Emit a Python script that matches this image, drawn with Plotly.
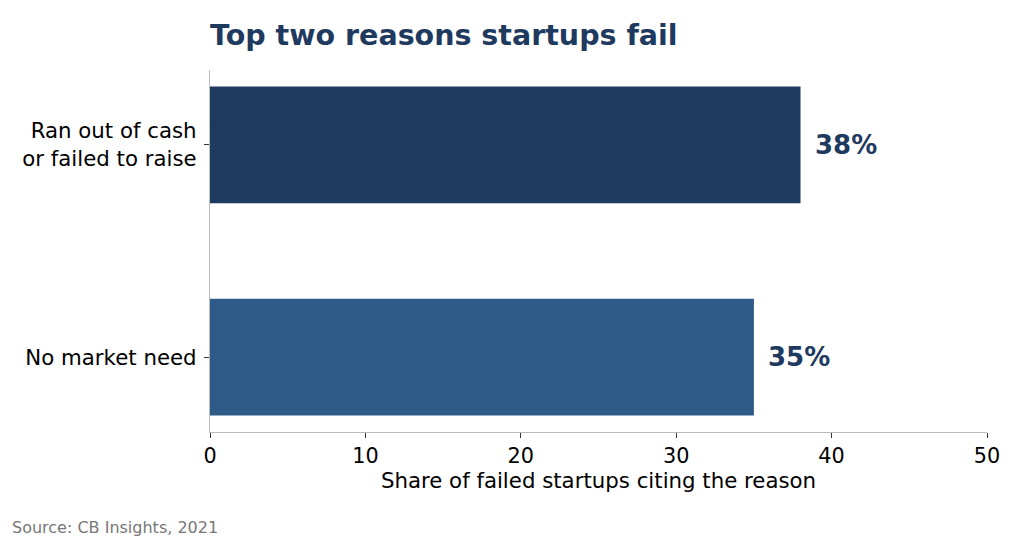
import plotly.graph_objects as go

categories = ["Ran out of cash<br>or failed to raise", "No market need"]
values = [38, 35]
labels = ["38%", "35%"]
positions = [1, 0]
bar_colors = ["#1f3a5f", "#2e5a87"]

TITLE = "Top two reasons startups fail"
X_TITLE = "Share of failed startups citing the reason"
SOURCE = "Source: CB Insights, 2021"
x_ticks = [0, 10, 20, 30, 40, 50]

W, H = 1024, 538
L, R, T, B = 210, 37, 70, 106
pw, ph = W - L - R, H - T - B

fig = go.Figure()
fig.add_trace(go.Bar(
    x=values, y=positions, orientation="h", width=0.55,
    marker=dict(color=bar_colors, line=dict(width=0)),
    hoverinfo="skip",
))

for v, p, t in zip(values, positions, labels):
    fig.add_annotation(x=v, y=p, xref="x", yref="y", text=f"<b>{t}</b>",
                       showarrow=False, xanchor="left", yanchor="middle",
                       xshift=12, font=dict(family="DejaVu Sans", size=26, color="#1f3a5f"))

fig.add_annotation(x=(10 - L) / pw, y=(H - B - 527) / ph, xref="paper", yref="paper",
                   text=SOURCE, showarrow=False, xanchor="left", yanchor="middle",
                   font=dict(family="DejaVu Sans", size=16, color="#777777"))

fig.update_layout(
    width=W, height=H,
    margin=dict(l=L, r=R, t=T, b=B, autoexpand=False),
    paper_bgcolor="white", plot_bgcolor="white",
    showlegend=False,
    font=dict(family="DejaVu Sans", size=20.8, color="black"),
    title=dict(text=f"<b>{TITLE}</b>", x=0, xref="paper", xanchor="left",
               y=1 - 35 / H, yref="container", yanchor="middle",
               font=dict(family="DejaVu Sans", size=28.5, color="#1f3a5f")),
    xaxis=dict(range=[0, 50], tickvals=x_ticks, showgrid=False, zeroline=False,
               showline=True, linecolor="#bbbbbb", linewidth=1.2,
               ticks="outside", ticklen=5, tickcolor="#333333", tickwidth=1,
               title=dict(text=X_TITLE, standoff=6, font=dict(size=21.3))),
    yaxis=dict(range=[-0.3525, 1.3525], tickvals=positions, ticktext=categories,
               showgrid=False, zeroline=False,
               showline=True, linecolor="#bbbbbb", linewidth=1.2,
               ticks="outside", ticklen=5, tickcolor="#333333", tickwidth=1,
               ticklabelstandoff=3, tickfont=dict(size=21.3)),
)

fig.write_html("out.html",
               config={"displayModeBar": False},
               post_script="document.body.style.margin='0';document.body.style.padding='0';")
